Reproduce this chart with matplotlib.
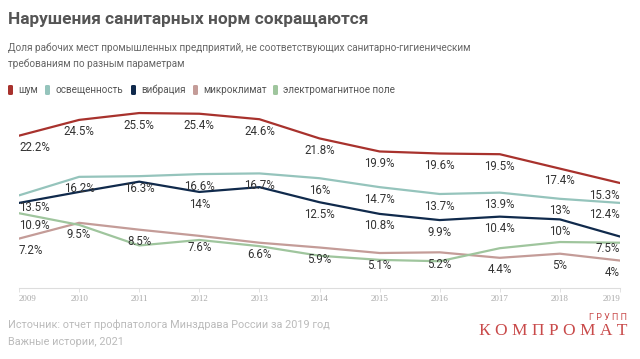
import matplotlib.pyplot as plt
from matplotlib.patches import FancyBboxPatch

plt.rcParams['font.family'] = ['Roboto', 'DejaVu Sans']

years = [2009, 2010, 2011, 2012, 2013, 2014, 2015, 2016, 2017, 2018, 2019]

noise = [22.2, 24.5, 25.5, 25.4, 24.6, 21.8, 19.9, 19.6, 19.5, 17.4, 15.3]
light = [13.5, 16.2, 16.3, 16.6, 16.7, 16.0, 14.7, 13.7, 13.9, 13.0, 12.4]
vibration = [12.4, 14.0, 15.5, 14.0, 14.7, 12.5, 10.8, 9.9, 10.4, 10.0, 7.5]
climate = [7.2, 9.5, 8.5, 7.6, 6.6, 5.9, 5.1, 5.2, 4.4, 5.0, 4.0]
emf = [10.9, 9.2, 6.2, 7.0, 6.1, 4.7, 4.1, 3.9, 5.8, 6.7, 6.6]

names = ['шум', 'освещенность', 'вибрация', 'микроклимат', 'электромагнитное поле']
colors = ['#a8322d', '#95c4bc', '#102a4c', '#c49c98', '#9fc59d']
series = [noise, light, vibration, climate, emf]
# which value labels are visible (others are hidden by overlaps in the original)
shown = [
    [1] * 11,
    [1] * 11,
    [0, 0, 0, 1, 0, 1, 1, 1, 1, 1, 1],
    [1] * 11,
    [1, 0, 0, 0, 0, 0, 0, 0, 0, 0, 0],
]

fig = plt.figure(figsize=(6.4, 3.59), dpi=100)
fig.patch.set_facecolor('white')
ax = fig.add_axes([19 / 640, 71 / 359, 601 / 640, 0.4969])

for vals, col in zip(series, colors):
    ax.plot(years, vals, color=col, lw=1.6, solid_capstyle='round', zorder=2)

for vals, flags in zip(series, shown):
    for i, (x, v) in enumerate(zip(years, vals)):
        if not flags[i]:
            continue
        ha = 'left' if i == 0 else ('right' if i == len(years) - 1 else 'center')
        ax.annotate(f'{v:g}%', (x, v), xytext=(0, -4), textcoords='offset points',
                    ha=ha, va='top', fontsize=8.3, color='#333333', zorder=3)

ax.set_xlim(2009, 2019)
ax.set_ylim(0, 26)
ax.set_yticks([])
ax.set_xticks(years)
ax.set_xticklabels([str(y) for y in years], fontsize=6.5, color='#aaaaaa',
                   family=['Liberation Serif', 'DejaVu Serif'])
ax.tick_params(axis='x', length=3, width=0.6, color='#dddddd', pad=2)
for s in ['top', 'right', 'left']:
    ax.spines[s].set_visible(False)
ax.spines['bottom'].set_color('#dddddd')
ax.spines['bottom'].set_linewidth(0.8)
ax.set_facecolor('none')
ticks = ax.get_xticklabels()
ticks[0].set_ha('left')
ticks[-1].set_ha('right')

fig.text(8 / 640, 1 - 19 / 359, 'Нарушения санитарных норм сокращаются',
         fontsize=12.4, fontweight='bold', color='#555555', va='center')
fig.text(8 / 640, 1 - 48 / 359,
         'Доля рабочих мест промышленных предприятий, не соответствующих санитарно-гигиеническим',
         fontsize=7.2, color='#666666', va='center')
fig.text(8 / 640, 1 - 64 / 359, 'требованиям по разным параметрам',
         fontsize=7.2, color='#666666', va='center')

leg_x = [8, 45, 131, 193, 273]
for lx, name, col in zip(leg_x, names, colors):
    fig.patches.append(FancyBboxPatch((lx / 640, 1 - 95 / 359), 5 / 640, 10 / 359,
                                      boxstyle='round,pad=0,rounding_size=0.003',
                                      transform=fig.transFigure, facecolor=col,
                                      edgecolor='none'))
    fig.text((lx + 10) / 640, 1 - 90 / 359, name, fontsize=7.1, color='#555555',
             va='center')

fig.text(8 / 640, 1 - 325 / 359, 'Источник: отчет профпатолога Минздрава России за 2019 год',
         fontsize=7.85, color='#bbbbbb', va='center')
fig.text(8 / 640, 1 - 342 / 359, 'Важные истории, 2021',
         fontsize=7.85, color='#bbbbbb', va='center')

fig.text(627 / 640, 1 - 331 / 359, 'К О М П Р О М А Т', fontsize=12.5, color='#c94a4a',
         ha='right', va='center', family=['Liberation Serif', 'DejaVu Serif'])
fig.text(627 / 640, 1 - 318 / 359, 'Г Р У П П', fontsize=6.5, color='#c94a4a',
         ha='right', va='center')

fig.savefig('out.png', dpi=100)
